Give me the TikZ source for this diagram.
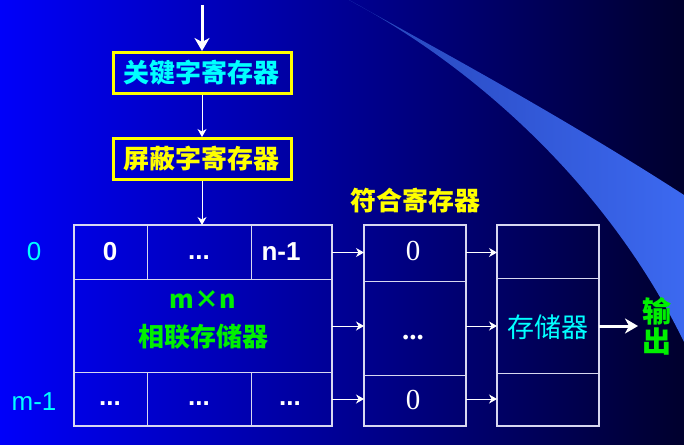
\documentclass[tikz,border=0pt]{standalone}
\usepackage{fontspec}
\setmainfont{Liberation Sans}
\newfontfamily\cjk{Noto Sans CJK SC}
\newfontfamily\numserif{Liberation Serif}
\usetikzlibrary{arrows.meta}
\definecolor{bgL}{RGB}{0,0,250}
\definecolor{bgM}{RGB}{0,0,190}
\definecolor{bgR}{RGB}{0,0,45}
\definecolor{swA}{RGB}{38,68,185}
\definecolor{swB}{RGB}{60,105,240}
\definecolor{gridline}{RGB}{215,215,240}
\definecolor{yel}{RGB}{255,255,0}
\definecolor{cy}{RGB}{0,255,255}
\definecolor{grn}{RGB}{0,240,0}
\tikzset{
  regbox/.style={draw=yel, line width=3pt, minimum width=178pt, minimum height=41pt, inner sep=0pt},
  cell/.style={draw=gridline, line width=1pt, anchor=north west, inner sep=0pt},
  frame/.style={draw=gridline, line width=2.6pt},
  thinarrow/.style={draw=white, line width=0.9pt, -{Stealth[length=8pt,width=9pt,inset=2.5pt]}},
  bigarrow/.style={draw=white, line width=3pt, -{Stealth[length=13pt,width=15pt,inset=4pt]}},
  cjkbold/.style={font=\cjk\bfseries\fontsize{26}{30}\selectfont},
  latin/.style={font=\fontsize{26}{30}\selectfont, anchor=base},
  latinbold/.style={latin, text=white, font=\bfseries\fontsize{26}{30}\selectfont},
}
\begin{document}
\begin{tikzpicture}[x=1pt,y=-1pt]
\useasboundingbox (0,0) rectangle (684,444);
% background gradient and swoosh
\shade[left color=bgL, middle color=bgM, right color=bgR] (0,0) rectangle (684,444);
\shade[left color=swA, right color=swB]
  (349,0) .. controls (430,45) and (560,115) .. (684,195)
  -- (684,342) .. controls (610,190) and (480,70) .. (349,0) -- cycle;

% register boxes at the top
\coordinate (in) at (202,5);
\node[regbox] (key) at (202,73) {};
\node[cjkbold, text=cy] (keyt) at (201,73) {关键字寄存器};
\node[regbox] (mask) at (202,159) {};
\node[cjkbold, text=yel] (maskt) at (201,159) {屏蔽字寄存器};

% associative memory m x n
\node[cell, minimum width=73pt, minimum height=54pt] (a00) at (74,225) {};
\node[cell, minimum width=104pt, minimum height=54pt] (a01) at (147,225) {};
\node[cell, minimum width=80pt, minimum height=54pt] (a02) at (251,225) {};
\node[cell, minimum width=257pt, minimum height=93pt] (amid) at (74,279) {};
\node[cell, minimum width=73pt, minimum height=53pt] (a20) at (74,372) {};
\node[cell, minimum width=104pt, minimum height=53pt] (a21) at (147,372) {};
\node[cell, minimum width=80pt, minimum height=53pt] (a22) at (251,372) {};
\draw[frame] (a00.north west) rectangle (a22.south east);

% match register
\node[cell, minimum width=101pt, minimum height=56pt] (m0) at (364,225) {};
\node[cell, minimum width=101pt, minimum height=94pt] (m1) at (364,281) {};
\node[cell, minimum width=101pt, minimum height=50pt] (m2) at (364,375) {};
\draw[frame] (m0.north west) rectangle (m2.south east);

% storage
\node[cell, minimum width=101pt, minimum height=53pt] (s0) at (497,225) {};
\node[cell, minimum width=101pt, minimum height=95pt] (s1) at (497,278) {};
\node[cell, minimum width=101pt, minimum height=52pt] (s2) at (497,373) {};
\draw[frame] (s0.north west) rectangle (s2.south east);

% texts
\node[latin, text=cy] (r0) at (34,260) {0};
\node[latin, text=cy] (rm) at (34,410) {m-1};
\node[latinbold] (c0) at (110,260) {0};
\node[latinbold] (c1) at (199,259) {...};
\node[latinbold] (c2) at (281,260) {n-1};
\node[latinbold] (d0) at (110,405) {...};
\node[latinbold] (d1) at (199,405) {...};
\node[latinbold] (d2) at (290,405) {...};
\node[latin, text=grn, font=\cjk\bfseries\fontsize{25}{30}\selectfont] (mn) at (203,308) {m×n};
\node[cjkbold, text=grn] (assoc) at (203.5,337) {相联存储器};
\node[cjkbold, text=yel] (matcht) at (415,201) {符合寄存器};
\node[latin, text=white, font=\numserif\fontsize{29}{30}\selectfont] (z0) at (413,260) {0};
\node[latin, text=white, font=\numserif\bfseries\fontsize{29}{30}\selectfont] (zm) at (413,339) {...};
\node[latin, text=white, font=\numserif\fontsize{29}{30}\selectfont] (z2) at (413,409) {0};
\node[text=cy, font=\cjk\fontsize{27}{30}\selectfont] (store) at (548,327) {存储器};
\node[text=grn, font=\cjk\bfseries\fontsize{29}{30}\selectfont, align=center, inner sep=0pt] (outt) at (657,326) {输\\出};
\coordinate (out) at (638,326);

% connectors
\draw[bigarrow] (in) -- (key.north);
\draw[thinarrow] (key.south) -- (mask.north);
\draw[thinarrow] (mask.south) -- (a01.north -| mask.south);
\draw[thinarrow] (a02.east) -- (a02.east -| m0.west);
\draw[thinarrow] (amid.east) -- (amid.east -| m1.west);
\draw[thinarrow] (a22.east) -- (a22.east -| m2.west);
\draw[thinarrow] (a02.east -| m0.east) -- (a02.east -| s0.west);
\draw[thinarrow] (amid.east -| m1.east) -- (amid.east -| s1.west);
\draw[thinarrow] (a22.east -| m2.east) -- (a22.east -| s2.west);
\draw[bigarrow] (s1.east) -- (out);
\end{tikzpicture}
\end{document}
